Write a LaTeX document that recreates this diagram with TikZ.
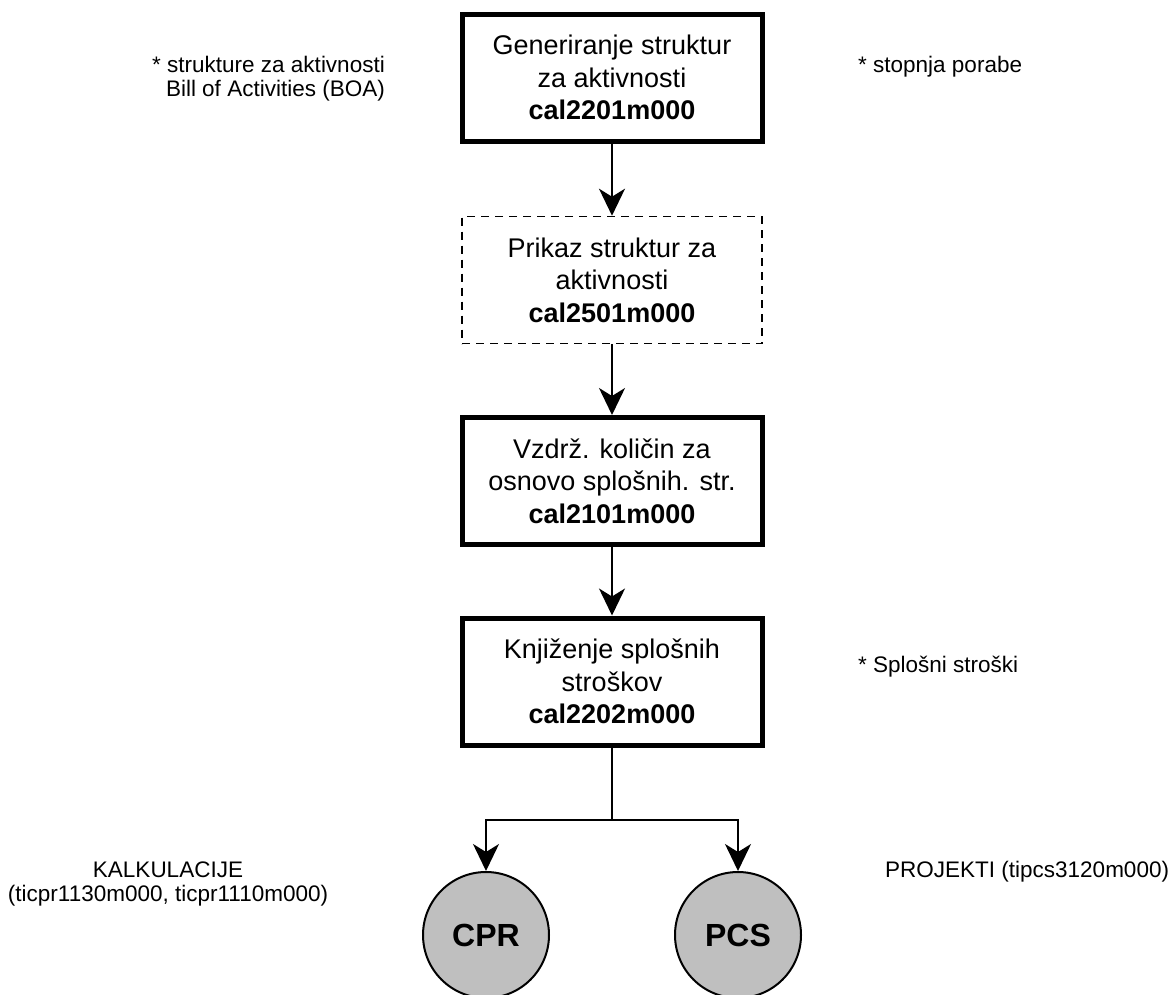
\documentclass[tikz,border=0pt]{standalone}
\usepackage{fontspec}
\setmainfont{Liberation Sans}
\usetikzlibrary{arrows.meta}
\begin{document}
\begin{tikzpicture}[x=1pt,y=-1pt,
  procbox/.style={draw, line width=5pt, minimum width=300pt, minimum height=127pt, align=center, inner sep=0pt, font=\fontsize{27}{32.5}\selectfont},
  viewbox/.style={procbox, line width=1.6pt, dash pattern=on 8pt off 6pt},
  modcircle/.style={circle, draw, line width=2pt, fill=black!25, minimum size=126pt, inner sep=0pt, font=\fontsize{32}{36}\selectfont\bfseries},
  note/.style={inner sep=0pt, font=\fontsize{22.5}{24}\selectfont},
  conn/.style={line width=2pt, -{Stealth[length=27pt, width=26pt, inset=8pt]}}]
\useasboundingbox (0,0) rectangle (1168,994);
\node[procbox] (b1) at (612,77.5) {Generiranje struktur\\za aktivnosti\\\textbf{cal2201m000}};
\node[viewbox] (b2) at (612,280) {Prikaz struktur za\\aktivnosti\\\textbf{cal2501m000}};
\node[procbox] (b3) at (612,481) {Vzdrž. količin za\\osnovo splošnih. str.\\\textbf{cal2101m000}};
\node[procbox] (b4) at (612,681.5) {Knjiženje splošnih\\stroškov\\\textbf{cal2202m000}};
\node[modcircle] (cpr) at (486,935) {CPR};
\node[modcircle] (pcs) at (738,935) {PCS};
\coordinate (split) at (612,820);
\draw[conn] (b1) -- (b2);
\draw[conn] (b2) -- (b3);
\draw[conn] (b3) -- (b4);
\draw[line width=2pt] (b4.south) -- (split);
\draw[conn] (split) -| (cpr.north);
\draw[conn] (split) -| (pcs.north);
\node[note, anchor=base east, align=right] (n1) at (385,96) {* strukture za aktivnosti\\Bill of Activities (BOA)};
\node[note, anchor=base west] (n2) at (858,72) {* stopnja porabe};
\node[note, anchor=base west] (n3) at (858,672) {* Splošni stroški};
\node[note, anchor=base, align=center] (n4) at (168,901) {KALKULACIJE\\(ticpr1130m000, ticpr1110m000)};
\node[note, anchor=base west] (n5) at (885,877) {PROJEKTI (tipcs3120m000)};
\end{tikzpicture}
\end{document}
